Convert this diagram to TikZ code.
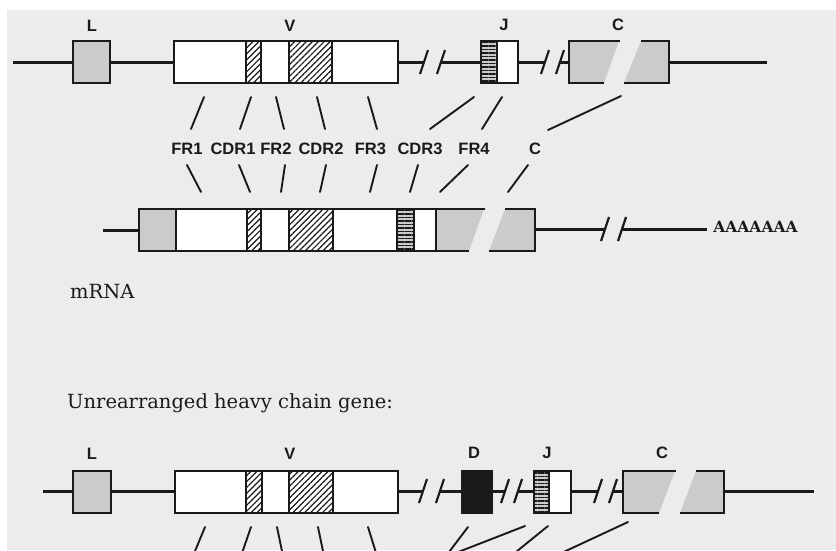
\documentclass[tikz,border=0pt]{standalone}
\usepackage{fontspec}
\setmainfont{DejaVu Serif}
\newfontfamily\lblfont{Liberation Sans}
\usetikzlibrary{patterns.meta}
\definecolor{bg}{HTML}{ECECEC}
\definecolor{stip}{HTML}{CBCBCB}
\definecolor{ink}{HTML}{1A1A1A}
\tikzset{
  gline/.style={line width=3pt, draw=ink},
  boxline/.style={line width=1.8pt, draw=ink},
  conn/.style={line width=1.9pt, draw=ink, line cap=round},
  brk/.style={line width=2.2pt, draw=ink},
  lbl/.style={font=\lblfont\bfseries\fontsize{16.5}{16.5}\selectfont, text=ink, inner sep=0pt},
  stipfill/.style={fill=stip},
  hatch/.style={preaction={fill=white}, pattern={Lines[angle=45,distance=4.2pt,line width=1.2pt]}, pattern color=ink},
  hstripe/.style={preaction={fill=stip}, pattern={Lines[angle=0,distance=3.5pt,line width=1.5pt]}, pattern color=ink},
}
\newcommand\brkmark[2]{\draw[brk] (#1-4,#2+12) -- (#1+4,#2-12);}
\begin{document}
\begin{tikzpicture}[x=1pt,y=-1pt]
\useasboundingbox (0,0) rectangle (836,550);
\fill[white] (0,0) rectangle (836,550);
\fill[bg] (7,10) rectangle (836,550);

% ---------- Row 1: light chain gene ----------
\draw[gline] (13,62) -- (73,62);
\draw[boxline, stipfill] (73,41) rectangle (110,83);
\draw[gline] (110,62) -- (174,62);
\draw[boxline, fill=white] (174,41) rectangle (398,83);
\draw[boxline, hatch] (246,41) rectangle (261,83);
\draw[boxline, hatch] (289,41) rectangle (332,83);
\draw[gline] (398,62) -- (424,62);
\brkmark{424}{62}\brkmark{441}{62}
\draw[gline] (441,62) -- (481,62);
\draw[boxline, hstripe] (481,41) rectangle (497,83);
\draw[boxline, fill=white] (497,41) rectangle (518,83);
\draw[gline] (518,62) -- (545,62);
\brkmark{545}{62}\brkmark{560}{62}
\draw[gline] (560,62) -- (569,62);
\fill[stip] (569,41) -- (619,41) -- (604,83) -- (569,83) -- cycle;
\draw[boxline] (620,41) -- (569,41) -- (569,83) -- (604,83);
\fill[stip] (641,41) -- (669,41) -- (669,83) -- (624,83) -- cycle;
\draw[boxline] (641,41) -- (669,41) -- (669,83) -- (624,83);
\draw[gline] (669,62) -- (767,62);

\node[lbl] (l1) at (92,26) {L};
\node[lbl] (v1) at (290,26) {V};
\node[lbl] (j1) at (504,25) {J};
\node[lbl] (c1) at (618,25) {C};

% upper connectors
\draw[conn] (204,97) -- (191,129);
\draw[conn] (251,97) -- (240,129);
\draw[conn] (276,97) -- (284,129);
\draw[conn] (317,97) -- (325,129);
\draw[conn] (368,97) -- (377,129);
\draw[conn] (474,97) -- (430,129);
\draw[conn] (502,97) -- (482,129);
\draw[conn] (621,96) -- (548,130);

% region labels
\node[lbl] (fr1) at (187,149) {FR1};
\node[lbl] (cdr1) at (233,149) {CDR1};
\node[lbl] (fr2) at (276,149) {FR2};
\node[lbl] (cdr2) at (321,149) {CDR2};
\node[lbl] (fr3) at (370.5,149) {FR3};
\node[lbl] (cdr3) at (420,149) {CDR3};
\node[lbl] (fr4) at (474,149) {FR4};
\node[lbl] (cl) at (535,149) {C};

% lower connectors
\draw[conn] (187,165) -- (201,192);
\draw[conn] (239,165) -- (250,192);
\draw[conn] (285,165) -- (281,192);
\draw[conn] (326,165) -- (320,192);
\draw[conn] (377,165) -- (370,192);
\draw[conn] (418,165) -- (410,192);
\draw[conn] (468,165) -- (440,192);
\draw[conn] (528,165) -- (508,192);

% ---------- Row 2: mRNA ----------
\draw[gline] (103,230) -- (139,230);
\draw[boxline, stipfill] (139,209) rectangle (176,251);
\draw[boxline, fill=white] (176,209) rectangle (397,251);
\draw[boxline, hatch] (247,209) rectangle (261,251);
\draw[boxline, hatch] (289,209) rectangle (333,251);
\draw[boxline, hstripe] (397,209) rectangle (414,251);
\draw[boxline, fill=white] (414,209) rectangle (436,251);
\fill[stip] (436,209) -- (484,209) -- (469,251) -- (436,251) -- cycle;
\draw[boxline] (485,209) -- (436,209) -- (436,251) -- (469,251);
\fill[stip] (505,209) -- (535,209) -- (535,251) -- (489,251) -- cycle;
\draw[boxline] (505,209) -- (535,209) -- (535,251) -- (489,251);
\draw[gline] (535,229) -- (605,229);
\brkmark{605}{229}\brkmark{622}{229}
\draw[gline] (622,229) -- (707,229);
\node[font=\bfseries\fontsize{15.5}{15.5}\selectfont, text=ink, inner sep=0pt] (polya) at (755.5,227) {AAAAAAA};

\node[anchor=base west, inner sep=0pt, text=ink, font=\fontsize{19.5}{19.5}\selectfont] (mrna) at (70,298) {mRNA};
\node[anchor=base west, inner sep=0pt, text=ink, font=\fontsize{19.5}{19.5}\selectfont] (hdr) at (67,408.5) {Unrearranged heavy chain gene:};

% ---------- Row 3: heavy chain gene ----------
\draw[gline] (43,491) -- (73,491);
\draw[boxline, stipfill] (73,471) rectangle (111,513);
\draw[gline] (111,491) -- (175,491);
\draw[boxline, fill=white] (175,471) rectangle (398,513);
\draw[boxline, hatch] (246,471) rectangle (262,513);
\draw[boxline, hatch] (289,471) rectangle (333,513);
\draw[gline] (398,491) -- (423,491);
\brkmark{423}{491}\brkmark{440}{491}
\draw[gline] (440,491) -- (462,491);
\draw[boxline, fill=ink] (462,471) rectangle (492,513);
\draw[gline] (492,491) -- (505,491);
\brkmark{505}{491}\brkmark{518}{491}
\draw[gline] (518,491) -- (534,491);
\draw[boxline, hstripe] (534,471) rectangle (549,513);
\draw[boxline, fill=white] (549,471) rectangle (571,513);
\draw[gline] (571,491) -- (598,491);
\brkmark{598}{491}\brkmark{613}{491}
\draw[gline] (613,491) -- (623,491);
\fill[stip] (623,471) -- (675,471) -- (659,513) -- (623,513) -- cycle;
\draw[boxline] (676,471) -- (623,471) -- (623,513) -- (659,513);
\fill[stip] (696,471) -- (724,471) -- (724,513) -- (680,513) -- cycle;
\draw[boxline] (696,471) -- (724,471) -- (724,513) -- (680,513);
\draw[gline] (724,491) -- (814,491);

\node[lbl] (l3) at (92,454) {L};
\node[lbl] (v3) at (290,454) {V};
\node[lbl] (d3) at (474,453) {D};
\node[lbl] (j3) at (547,453) {J};
\node[lbl] (c3) at (662,453) {C};

% connectors below row 3 (cut by the frame)
\begin{scope}
\clip (0,0) rectangle (836,550);
\draw[conn] (205,527) -- (193,556);
\draw[conn] (251,527) -- (241,556);
\draw[conn] (277,527) -- (283,556);
\draw[conn] (318,527) -- (324,556);
\draw[conn] (368,527) -- (377,556);
\draw[conn] (468,527) -- (446,556);
\draw[conn] (525,526) -- (448,556);
\draw[conn] (548,526) -- (511,556);
\draw[conn] (628,522) -- (555,556);
\end{scope}
\end{tikzpicture}
\end{document}
